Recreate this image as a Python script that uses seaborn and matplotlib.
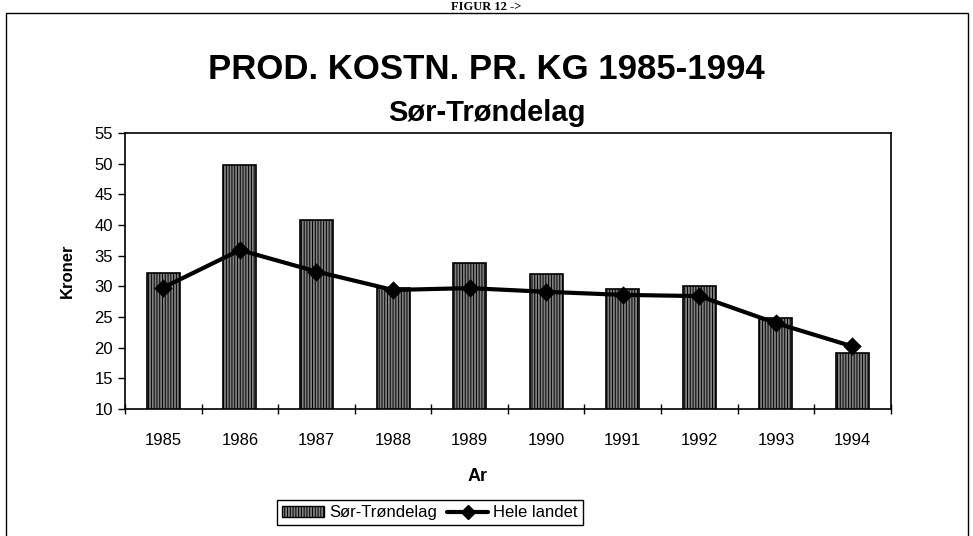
import matplotlib
matplotlib.use("Agg")
import matplotlib.pyplot as plt
import matplotlib.patches as mpatches
from matplotlib.lines import Line2D
import pandas as pd
import seaborn as sns

# Data
years = ["1985", "1986", "1987", "1988", "1989", "1990", "1991", "1992", "1993", "1994"]
sor_trondelag = [32.1, 49.8, 40.8, 29.7, 33.8, 32.0, 29.6, 30.0, 24.8, 19.1]
hele_landet = [29.8, 35.9, 32.4, 29.4, 29.7, 29.1, 28.6, 28.4, 24.0, 20.2]
y_ticks = [10, 15, 20, 25, 30, 35, 40, 45, 50, 55]

df = pd.DataFrame({"Ar": years, "Sør-Trøndelag": sor_trondelag, "Hele landet": hele_landet})

sns.set_style("white", {"text.color": "black", "axes.labelcolor": "black",
                        "xtick.color": "black", "ytick.color": "black"})
plt.rcParams["font.family"] = ["Liberation Sans", "DejaVu Sans"]
plt.rcParams["hatch.color"] = "black"
plt.rcParams["hatch.linewidth"] = 0.7

fig = plt.figure(figsize=(9.73, 5.36), dpi=100)
ax = fig.add_axes([0.1285, 0.237, 0.787, 0.515])

bar_color = "#808080"
sns.barplot(data=df, x="Ar", y="Sør-Trøndelag", color=bar_color, width=0.43,
            edgecolor="black", linewidth=1.2, ax=ax, zorder=2)
for p in ax.patches:
    p.set_hatch("||||||")

sns.pointplot(data=df, x="Ar", y="Hele landet", color="black", markers="D",
              markersize=7, linewidth=3, ax=ax, zorder=3)

ax.set_ylim(10, 55)
ax.set_yticks(y_ticks)
ax.set_xlim(-0.5, len(years) - 0.5)
ax.set_xticks(range(len(years)))
ax.set_xticklabels(years, fontsize=12)
ax.tick_params(axis="y", labelsize=12, length=5, direction="out", left=True, width=1)
ax.tick_params(axis="x", length=0, pad=17)
# category boundary ticks, Excel style
ax.set_xticks([i - 0.5 for i in range(len(years) + 1)], minor=True)
ax.tick_params(axis="x", which="minor", length=7, direction="inout", bottom=True, width=1)

for s in ax.spines.values():
    s.set_color("black")
    s.set_linewidth(1.2)

ax.set_ylabel("Kroner", fontsize=12, fontweight="bold", labelpad=14)
ax.set_xlabel("Ar", fontsize=13, fontweight="bold")
ax.xaxis.set_label_coords(0.461, -0.215)

fig.text(0.5, 0.871, "PROD. KOSTN. PR. KG 1985-1994", ha="center", va="center",
         fontsize=25, fontweight="bold")
fig.text(0.5, 0.79, "Sør-Trøndelag", ha="center", va="center",
         fontsize=21, fontweight="bold")
fig.text(0.5, 0.998, "FIGUR 12 ->", ha="center", va="top", fontsize=9,
         fontweight="bold", family=["Liberation Serif", "DejaVu Serif"])

# outer frame
frame = mpatches.Rectangle((6 / 973, -0.05), 962 / 973, 1.05 - 13 / 536,
                           transform=fig.transFigure, fill=False,
                           edgecolor="black", linewidth=1.0)
fig.patches.append(frame)

handles = [
    mpatches.Patch(facecolor=bar_color, edgecolor="black", hatch="||||||", label="Sør-Trøndelag"),
    Line2D([0], [0], color="black", linewidth=3, marker="D", markersize=7, label="Hele landet"),
]
fig.legend(handles=handles, loc="center", bbox_to_anchor=(0.442, 0.043), ncol=2,
           frameon=True, fancybox=False, edgecolor="black", fontsize=12,
           handlelength=2.5, handletextpad=0.3, columnspacing=0.6,
           borderpad=0.3, framealpha=1)

fig.savefig("out.png", dpi=100)
